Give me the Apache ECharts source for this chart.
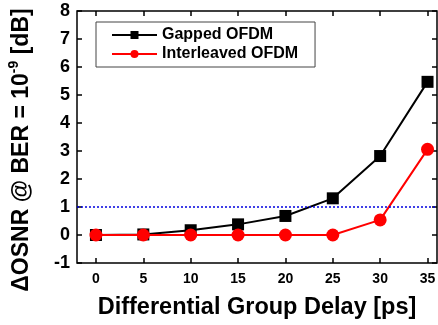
<!DOCTYPE html>
<html>
<head>
<meta charset="utf-8">
<script src="https://cdn.jsdelivr.net/npm/echarts@6/dist/echarts.min.js"></script>
<style>
  html, body { margin: 0; padding: 0; background: #fff; }
  #chart { width: 438px; height: 325px; }
</style>
</head>
<body>
<div id="chart"></div>
<script>
// Differential group delay [ps]
const dgd = [0, 5, 10, 15, 20, 25, 30, 35];
// OSNR penalty at BER = 1e-9 [dB]
const gappedOFDM = [0, 0.02, 0.17, 0.38, 0.68, 1.31, 2.82, 5.47];
const interleavedOFDM = [0, 0, 0, 0, 0, 0, 0.54, 3.06];
// Reference penalty level [dB]
const penaltyLimit = 1;
const xTicks = [0, 5, 10, 15, 20, 25, 30, 35];

const font = 'Arial, "Liberation Sans", sans-serif';
const chart = echarts.init(document.getElementById('chart'), null, { renderer: 'canvas' });

const pair = (xs, ys) => xs.map((x, i) => [x, ys[i]]);
const tick = { show: true, inside: true, length: 5, lineStyle: { color: '#000', width: 1.5 } };

chart.setOption({
  animation: false,
  backgroundColor: '#fff',
  grid: {
    left: 77, top: 11, right: 1, bottom: 62,
    outerBoundsMode: 'none', containLabel: false,
    show: true, borderColor: '#000', borderWidth: 1.5, backgroundColor: 'transparent'
  },
  legend: {
    orient: 'vertical',
    left: 96, top: 22,
    padding: [5, 17, 5, 15],
    itemGap: 3,
    itemWidth: 45, itemHeight: 10,
    borderColor: '#444', borderWidth: 1,
    textStyle: { fontFamily: font, fontWeight: 'bold', fontSize: 16, color: '#000' },
    data: ['Gapped OFDM', 'Interleaved OFDM']
  },
  xAxis: [{
    type: 'value', min: -2, max: 36, position: 'bottom',
    axisLine: { show: false, onZero: false },
    axisTick: Object.assign({ customValues: xTicks }, tick),
    axisLabel: { customValues: xTicks, fontFamily: font, fontWeight: 'bold', fontSize: 14, color: '#000', margin: 9 },
    splitLine: { show: false },
    name: 'Differential Group Delay [ps]',
    nameLocation: 'middle', nameGap: 33,
    nameTextStyle: { fontFamily: font, fontWeight: 'bold', fontSize: 23.5, color: '#000' }
  }, {
    type: 'value', min: -2, max: 36, position: 'top',
    axisLine: { show: false, onZero: false },
    axisTick: Object.assign({ customValues: xTicks }, tick),
    axisLabel: { show: false },
    splitLine: { show: false }
  }],
  yAxis: [{
    type: 'value', min: -1, max: 8, interval: 1, position: 'left',
    axisLine: { show: false, onZero: false },
    axisTick: tick,
    axisLabel: { fontFamily: font, fontWeight: 'bold', fontSize: 18, color: '#000', margin: 7 },
    splitLine: { show: false }
  }, {
    type: 'value', min: -1, max: 8, interval: 1, position: 'right',
    axisLine: { show: false, onZero: false },
    axisTick: tick,
    axisLabel: { show: false },
    splitLine: { show: false }
  }],
  graphic: [{
    type: 'text',
    x: 20, y: 150,
    rotation: Math.PI / 2,
    style: {
      text: '{a|ΔOSNR @ BER = 10}{s|-9}{a| [dB]}',
      align: 'center', verticalAlign: 'middle',
      rich: {
        a: { fontFamily: font, fontWeight: 'bold', fontSize: 23, fill: '#000', lineHeight: 26, verticalAlign: 'bottom' },
        s: { fontFamily: font, fontWeight: 'bold', fontSize: 14, fill: '#000', lineHeight: 26, verticalAlign: 'top', padding: [0, 0, 10, 0] }
      }
    }
  }],
  series: [
    {
      name: 'Gapped OFDM', type: 'line',
      data: pair(dgd, gappedOFDM),
      symbol: 'rect', symbolSize: 12,
      itemStyle: { color: '#000' },
      lineStyle: { color: '#000', width: 2 },
      z: 3,
      markLine: {
        silent: true, symbol: 'none', label: { show: false },
        lineStyle: { color: '#0000e0', type: [2, 2], width: 1.5 },
        data: [{ yAxis: penaltyLimit }]
      }
    },
    {
      name: 'Interleaved OFDM', type: 'line',
      data: pair(dgd, interleavedOFDM),
      symbol: 'circle', symbolSize: 13,
      itemStyle: { color: '#ff0000' },
      lineStyle: { color: '#ff0000', width: 2 },
      z: 4
    }
  ]
});
</script>
</body>
</html>
